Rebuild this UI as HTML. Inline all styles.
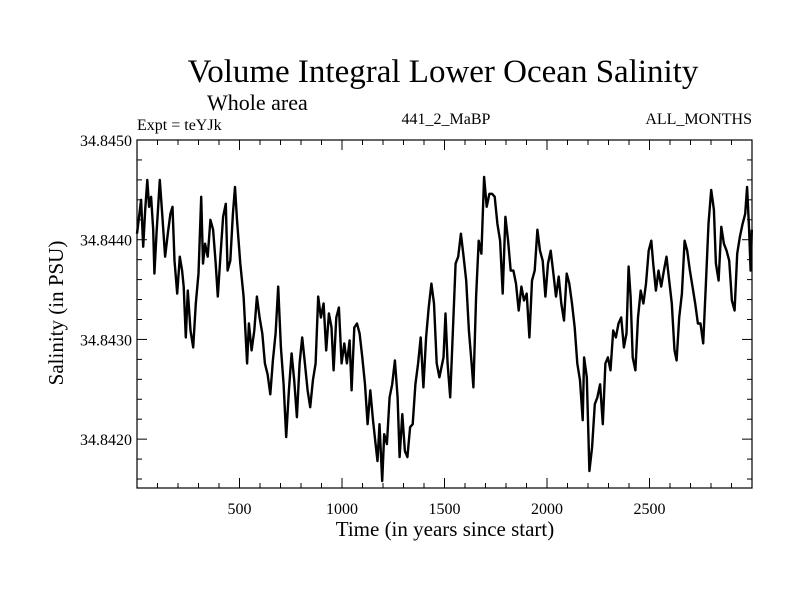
<!DOCTYPE html>
<html><head><meta charset="utf-8"><style>
body{margin:0;background:#fff}
svg{display:block;font-family:"Liberation Serif",serif}
</style></head><body>
<svg id="chart" width="800" height="600" viewBox="0 0 800 600">
<rect width="800" height="600" fill="#fff"/>
<text x="443" y="82" font-size="33" text-anchor="middle">Volume Integral Lower Ocean Salinity</text>
<text x="207" y="110" font-size="22">Whole area</text>
<text x="137" y="130" font-size="16">Expt = teYJk</text>
<text x="446" y="124" font-size="16" text-anchor="middle">441_2_MaBP</text>
<text x="752" y="124" font-size="16" text-anchor="end">ALL_MONTHS</text>
<text x="445" y="536" font-size="21" text-anchor="middle">Time (in years since start)</text>
<text transform="translate(63,313) rotate(-90)" font-size="21" text-anchor="middle">Salinity (in PSU)</text>
<g id="axes"></g>
<path id="series" fill="none" stroke="#000" stroke-width="2.4" stroke-linejoin="round"/>
<rect x="137" y="140" width="615" height="348" fill="none" stroke="#000" stroke-width="1.2"/>
</svg>
<script>
const years=[0,20,30,40,50,59,69,79,85,95,111,124,137,150,163,173,183,196,209,220,228,238,248,261,274,287,300,313,322,332,345,358,371,384,394,407,420,433,442,455,468,478,488,504,520,537,546,559,572,585,598,611,624,637,650,663,676,689,702,715,728,741,754,767,780,793,806,819,832,845,858,871,884,897,910,923,936,949,959,972,985,998,1011,1024,1037,1047,1060,1073,1086,1099,1112,1125,1138,1151,1164,1173,1183,1196,1206,1219,1232,1245,1258,1271,1281,1294,1307,1319,1332,1345,1358,1371,1384,1397,1410,1423,1436,1449,1462,1475,1495,1505,1515,1528,1541,1554,1567,1580,1593,1606,1619,1632,1641,1654,1667,1680,1693,1706,1719,1732,1745,1758,1771,1784,1797,1810,1823,1836,1849,1862,1875,1888,1901,1914,1927,1940,1953,1966,1979,1992,2005,2018,2031,2044,2057,2070,2083,2096,2109,2122,2135,2148,2161,2174,2181,2194,2207,2220,2233,2246,2259,2272,2285,2297,2310,2323,2336,2349,2362,2375,2388,2398,2408,2418,2431,2444,2457,2470,2483,2496,2509,2518,2531,2544,2557,2570,2583,2596,2609,2622,2632,2645,2658,2671,2684,2697,2710,2723,2736,2749,2762,2775,2788,2801,2814,2824,2837,2850,2863,2876,2889,2902,2915,2928,2941,2954,2967,2976,2986,2993,2999];
const salinity=[34.84406,34.84440,34.84393,34.84430,34.84460,34.84433,34.84443,34.84410,34.84366,34.84406,34.84460,34.84423,34.84383,34.84406,34.84426,34.84433,34.84379,34.84346,34.84383,34.84369,34.84353,34.84302,34.84349,34.84309,34.84292,34.84336,34.84366,34.84443,34.84376,34.84396,34.84383,34.84420,34.84410,34.84376,34.84343,34.84383,34.84423,34.84436,34.84369,34.84379,34.84426,34.84453,34.84420,34.84376,34.84343,34.84276,34.84316,34.84289,34.84309,34.84343,34.84322,34.84306,34.84276,34.84265,34.84245,34.84279,34.84306,34.84353,34.84292,34.84255,34.84202,34.84249,34.84286,34.84259,34.84222,34.84276,34.84302,34.84276,34.84249,34.84232,34.84259,34.84276,34.84343,34.84322,34.84336,34.84289,34.84326,34.84312,34.84269,34.84322,34.84332,34.84276,34.84296,34.84276,34.84299,34.84249,34.84312,34.84316,34.84306,34.84282,34.84255,34.84215,34.84249,34.84219,34.84195,34.84178,34.84215,34.84158,34.84205,34.84195,34.84242,34.84255,34.84279,34.84242,34.84182,34.84225,34.84188,34.84182,34.84212,34.84215,34.84255,34.84276,34.84302,34.84252,34.84302,34.84332,34.84356,34.84336,34.84276,34.84262,34.84282,34.84326,34.84276,34.84242,34.84309,34.84376,34.84383,34.84406,34.84383,34.84359,34.84309,34.84276,34.84252,34.84343,34.84399,34.84386,34.84463,34.84433,34.84446,34.84446,34.84443,34.84416,34.84399,34.84346,34.84423,34.84399,34.84369,34.84369,34.84356,34.84329,34.84353,34.84339,34.84346,34.84302,34.84359,34.84369,34.84410,34.84389,34.84379,34.84343,34.84376,34.84389,34.84366,34.84343,34.84363,34.84336,34.84319,34.84366,34.84356,34.84336,34.84312,34.84276,34.84259,34.84219,34.84282,34.84262,34.84168,34.84192,34.84235,34.84242,34.84255,34.84215,34.84276,34.84282,34.84269,34.84309,34.84302,34.84316,34.84322,34.84292,34.84306,34.84373,34.84343,34.84282,34.84269,34.84322,34.84349,34.84336,34.84356,34.84389,34.84399,34.84376,34.84349,34.84369,34.84353,34.84369,34.84383,34.84359,34.84336,34.84289,34.84279,34.84322,34.84346,34.84399,34.84389,34.84369,34.84353,34.84336,34.84316,34.84316,34.84296,34.84356,34.84416,34.84450,34.84430,34.84376,34.84359,34.84413,34.84396,34.84389,34.84379,34.84339,34.84329,34.84386,34.84403,34.84416,34.84426,34.84453,34.84410,34.84369,34.84410];
const xTickLabels=[500,1000,1500,2000,2500];
const yTickLabels=["34.8420","34.8430","34.8440","34.8450"];
const L=137,R=752,T=140,B=488,X0=0,X1=3000,Y0=34.84151,Y1=34.8450;
const xs=v=>L+(v-X0)/(X1-X0)*(R-L);
const ys=v=>B-(v-Y0)/(Y1-Y0)*(B-T);
const NS="http://www.w3.org/2000/svg";
const axes=document.getElementById('axes');
function line(x1,y1,x2,y2){const l=document.createElementNS(NS,'line');l.setAttribute('x1',x1);l.setAttribute('y1',y1);l.setAttribute('x2',x2);l.setAttribute('y2',y2);l.setAttribute('stroke','#000');l.setAttribute('stroke-width','1');


axes.appendChild(l);}
function text(x,y,s,anchor,name){const t=document.createElementNS(NS,'text');t.setAttribute('x',x);t.setAttribute('y',y);t.setAttribute('font-size','16');t.setAttribute('text-anchor',anchor);t.textContent=s;


axes.appendChild(t);}
for(let v=100;v<X1;v+=100){const x=xs(v);const major=v%500===0;const len=major?10:5;line(x,B,x,B-len);line(x,T,x,T+len);}
xTickLabels.forEach(v=>text(xs(v),514,String(v),'middle','x-tick-label'));
for(let i=0;i<=20;i++){const v=34.8416+i*0.0002;if(v>Y1+1e-9)break;const y=ys(v);const major=Math.abs((v*10000)%10)<0.01||Math.abs((v*10000)%10-10)<0.01;const len=major?10:5;line(L,y,L+len,y);line(R,y,R-len,y);}
yTickLabels.forEach(s=>text(132,ys(parseFloat(s))+6,s,'end','y-tick-label'));
let d='';years.forEach((yr,i)=>{d+=(i?'L':'M')+xs(yr).toFixed(1)+' '+ys(salinity[i]).toFixed(1);});
document.getElementById('series').setAttribute('d',d);
</script>
</body></html>
